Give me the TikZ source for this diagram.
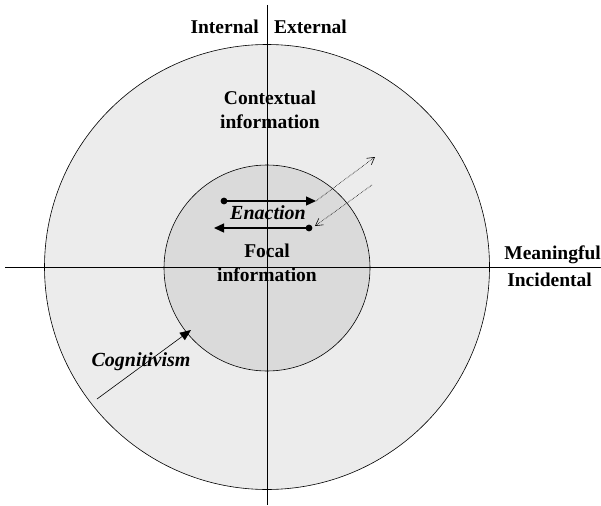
\documentclass[tikz,border=0pt]{standalone}
\usepackage{fontspec}
\setmainfont{Liberation Serif}
\usetikzlibrary{arrows.meta}
\definecolor{outerg}{RGB}{236,236,236}
\definecolor{innerg}{RGB}{218,218,218}
\tikzset{
  lbl/.style={font=\fontsize{19.5}{24}\selectfont\bfseries, inner sep=0pt, align=center},
  ilbl/.style={font=\fontsize{20}{24}\selectfont\bfseries\itshape, inner sep=0pt},
  axis/.style={line width=0.9pt, black},
  solidarr/.style={line width=1.3pt, -{Triangle[length=10pt,width=9pt]}},
  dotarr/.style={line width=0.6pt, densely dotted, -{Straight Barb[length=7pt,width=8pt]}},
}
\begin{document}
\begin{tikzpicture}[x=1pt,y=-1pt]
\useasboundingbox (0,0) rectangle (601,505);
\fill[white] (0,0) rectangle (601,505);
\node[circle, draw=black, line width=0.6pt, fill=outerg, minimum size=445pt, inner sep=0pt] (outer) at (267,267) {};
\node[circle, draw=black, line width=0.6pt, fill=innerg, minimum size=206pt, inner sep=0pt] (inner) at (267,268) {};
\coordinate (vt) at (267,5);
\coordinate (vb) at (267,505);
\coordinate (hl) at (5,267);
\coordinate (hr) at (601,267);
\draw[axis] (vt) -- (vb);
\draw[axis] (hl) -- (hr);
\node[lbl, anchor=base east] (int) at (259,34) {Internal};
\node[lbl, anchor=base west] (ext) at (274,34) {External};
\node[lbl] (ctx) at (270,110) {Contextual\\information};
\node[lbl, anchor=base east] (mean) at (601,259) {Meaningful};
\node[lbl, anchor=base east] (inc) at (592,286) {Incidental};
\node[lbl] (focal) at (267,263) {Focal\\information};
\node[ilbl] (enact) at (268,213) {Enaction};
\node[ilbl] (cogn) at (141,362) {Cognitivism};
\coordinate (a1s) at (224,201);
\coordinate (a1e) at (316,201);
\coordinate (a2s) at (309,228);
\coordinate (a2e) at (214,228);
\fill (a1s) circle (3.4pt);
\fill (a2s) circle (3.4pt);
\draw[solidarr] (a1s) -- (a1e);
\draw[solidarr] (a2s) -- (a2e);
\coordinate (d1e) at (375,157);
\coordinate (d2s) at (372,185);
\coordinate (d2e) at (315,226);
\draw[dotarr] (a1e) -- (d1e);
\draw[dotarr] (d2s) -- (d2e);
\coordinate (cs) at (97,399);
\coordinate (ce) at (191,330);
\draw[line width=0.6pt, -{Triangle[length=11pt,width=9pt]}] (cs) -- (ce);
\end{tikzpicture}
\end{document}
